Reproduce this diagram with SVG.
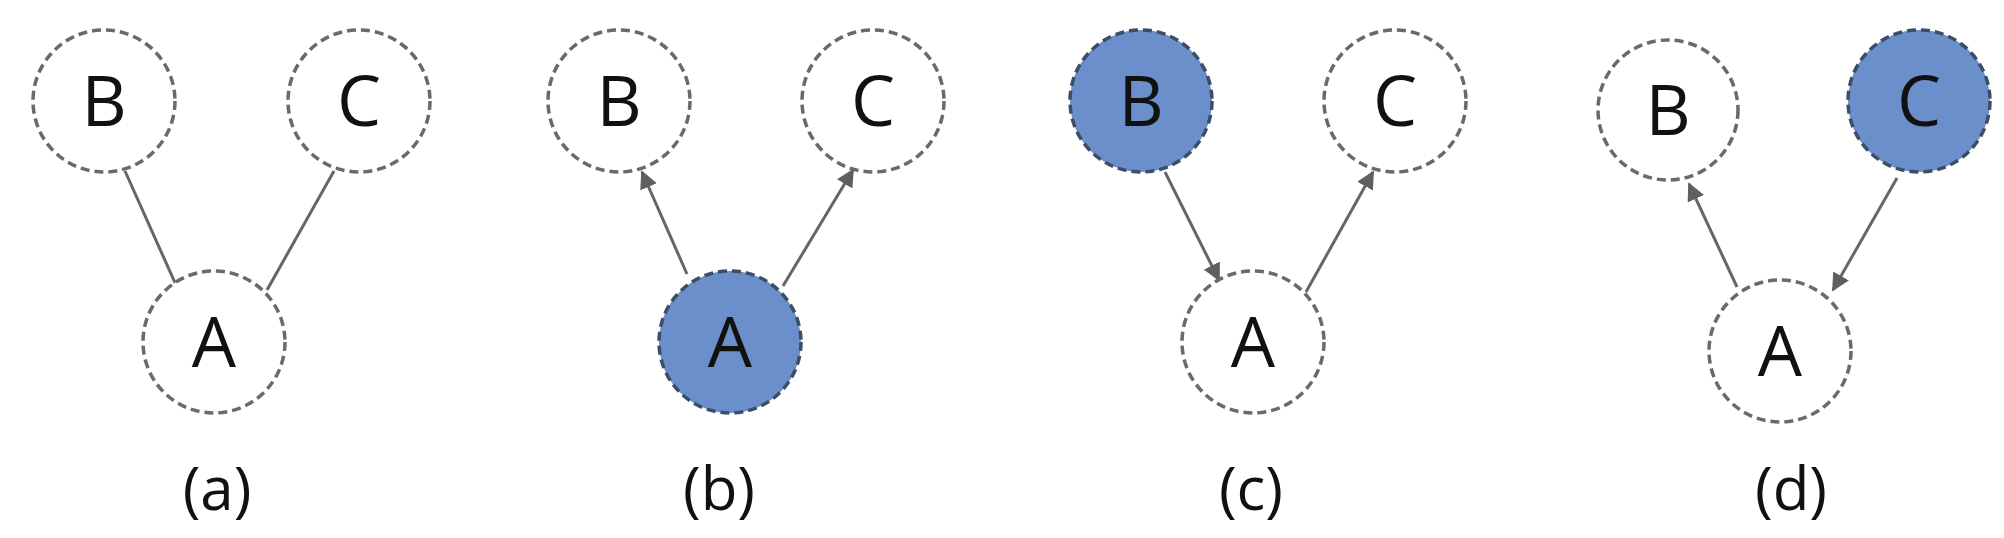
<svg xmlns="http://www.w3.org/2000/svg" width="2004" height="538" viewBox="0 0 2004 538">
<style>
.n{fill:#fff;stroke:#6a6a6a;stroke-width:3.5;stroke-dasharray:9 5}
.f{fill:#6b8fca;stroke:#3c4d66}
.t{font-family:"Open Sans","Liberation Sans",sans-serif;font-size:70px;fill:#111;text-anchor:middle}
.l{font-family:"Open Sans","Liberation Sans",sans-serif;font-size:60px;fill:#111;text-anchor:middle}
.e{stroke:#666;stroke-width:3;fill:none}
.a{marker-end:url(#ar)}
</style>
<defs><marker id="ar" viewBox="0 0 10 10" refX="9" refY="5" markerWidth="6" markerHeight="6" orient="auto" markerUnits="strokeWidth"><path d="M0,0L10,5L0,10z" fill="#5f5f5f"/></marker></defs>
<g id="edges">
<line class="e" x1="125" y1="171" x2="176" y2="285"/>
<line class="e" x1="334" y1="171" x2="267" y2="290"/>
<line class="e a" x1="687" y1="274" x2="642" y2="172"/>
<line class="e a" x1="783" y1="286" x2="853" y2="170"/>
<line class="e a" x1="1165" y1="172" x2="1219" y2="280"/>
<line class="e a" x1="1306" y1="292" x2="1373" y2="172"/>
<line class="e a" x1="1737" y1="287" x2="1689" y2="184"/>
<line class="e a" x1="1897" y1="178" x2="1833" y2="290"/>
</g>
<g id="a-B"><circle class="n" cx="104" cy="101" r="71"/><text class="t" x="104" y="126">B</text></g>
<g id="a-C"><circle class="n" cx="359" cy="101" r="71"/><text class="t" x="359" y="126">C</text></g>
<g id="a-A"><circle class="n" cx="214" cy="342" r="71"/><text class="t" x="214" y="367">A</text></g>
<g id="b-B"><circle class="n" cx="619" cy="101" r="71"/><text class="t" x="619" y="126">B</text></g>
<g id="b-C"><circle class="n" cx="873" cy="101" r="71"/><text class="t" x="873" y="126">C</text></g>
<g id="b-A"><circle class="n f" cx="730" cy="342" r="71"/><text class="t" x="730" y="367">A</text></g>
<g id="c-B"><circle class="n f" cx="1141" cy="101" r="71"/><text class="t" x="1141" y="126">B</text></g>
<g id="c-C"><circle class="n" cx="1395" cy="101" r="71"/><text class="t" x="1395" y="126">C</text></g>
<g id="c-A"><circle class="n" cx="1253" cy="342" r="71"/><text class="t" x="1253" y="367">A</text></g>
<g id="d-B"><circle class="n" cx="1668" cy="110" r="70"/><text class="t" x="1668" y="135">B</text></g>
<g id="d-C"><circle class="n f" cx="1919" cy="101" r="71"/><text class="t" x="1919" y="126">C</text></g>
<g id="d-A"><circle class="n" cx="1780" cy="351" r="71"/><text class="t" x="1780" y="376">A</text></g>
<g id="labels">
<text class="l" x="217" y="510">(a)</text>
<text class="l" x="719" y="510">(b)</text>
<text class="l" x="1251" y="510">(c)</text>
<text class="l" x="1791" y="510">(d)</text>
</g>
</svg>
